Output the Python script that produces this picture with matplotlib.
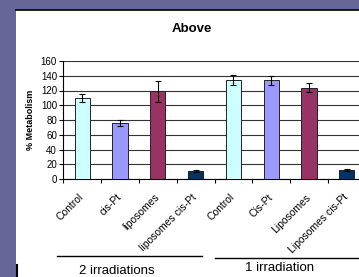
import numpy as np
import matplotlib.pyplot as plt
from matplotlib.patches import Rectangle
from matplotlib.lines import Line2D

categories = ['Control', 'cis-Pt', 'liposomes', 'liposomes cis-Pt',
              'Control', 'Cis-Pt', 'Liposomes', 'Liposomes cis-Pt']
values = [110, 76, 119, 11, 134, 134, 124, 12]
errors = [5, 4, 14, 1, 7, 6, 6, 1]
colors = ['#CCFFFF', '#9999FF', '#993366', '#003366'] * 2
groups = ['2 irradiations', '1 irradiation']
yticks = [0, 20, 40, 60, 80, 100, 120, 140, 160]

plt.rcParams['font.family'] = ['Liberation Sans', 'DejaVu Sans']

W, H = 359, 277
fig = plt.figure(figsize=(W / 100, H / 100), dpi=100)
fig.patch.set_facecolor('#666699')

# white slide panel
fig.add_artist(Rectangle((16 / W, 0), 1 - 16 / W, 1 - 10 / H,
                         transform=fig.transFigure, facecolor='white',
                         edgecolor='none', zorder=0))
fig.add_artist(Line2D([16 / W, 1], [1 - 10 / H, 1 - 10 / H],
                      transform=fig.transFigure, color='black', lw=1.2))
fig.add_artist(Line2D([16.5 / W, 16.5 / W], [0, 12 / H],
                      transform=fig.transFigure, color='black', lw=1.5))

ax = fig.add_axes([63.3 / W, 98 / H, 302.4 / W, 118 / H])
ax.set_facecolor('none')
x = np.arange(len(values))
ax.bar(x, values, width=0.4, color=colors, edgecolor='#222222', linewidth=0.7,
       yerr=errors, capsize=2, error_kw=dict(elinewidth=0.8, capthick=0.8),
       zorder=3)
ax.set_xlim(-0.5, len(values) - 0.5)
ax.set_ylim(0, 160)
ax.set_yticks(yticks)
ax.yaxis.grid(True, color='#333333', lw=0.8, zorder=0)
ax.tick_params(axis='y', labelsize=7, length=3, width=0.8, pad=1.5)

ax.set_xticks(np.arange(len(values) + 1) - 0.5)
ax.set_xticklabels([])
ax.tick_params(axis='x', length=3, width=0.8)
for i, lab in enumerate(categories):
    ax.text(i - 0.1, -18, lab, rotation=45, ha='right', va='top',
            rotation_mode='anchor', fontsize=7.5, transform=ax.transData)

for s in ['top', 'right']:
    ax.spines[s].set_visible(False)
ax.spines['left'].set_linewidth(0.8)
ax.spines['bottom'].set_linewidth(0.8)

ax.set_ylabel('% Metabolism', fontsize=6.5, fontweight='bold', labelpad=4)
fig.text(192 / W, 1 - 29 / H, 'Above', fontsize=9.5, fontweight='bold',
         ha='center', va='center')

# group lines and labels
fig.add_artist(Line2D([57 / W, 202 / W], [1 - 256 / H] * 2,
                      transform=fig.transFigure, color='black', lw=1))
fig.add_artist(Line2D([215 / W, 1], [1 - 258 / H] * 2,
                      transform=fig.transFigure, color='black', lw=1))
fig.text(117 / W, 1 - 271 / H, groups[0], fontsize=9.5, ha='center', va='center')
fig.text(280 / W, 1 - 268 / H, groups[1], fontsize=9.5, ha='center', va='center')

fig.savefig('out.png', dpi=100, facecolor=fig.get_facecolor())
